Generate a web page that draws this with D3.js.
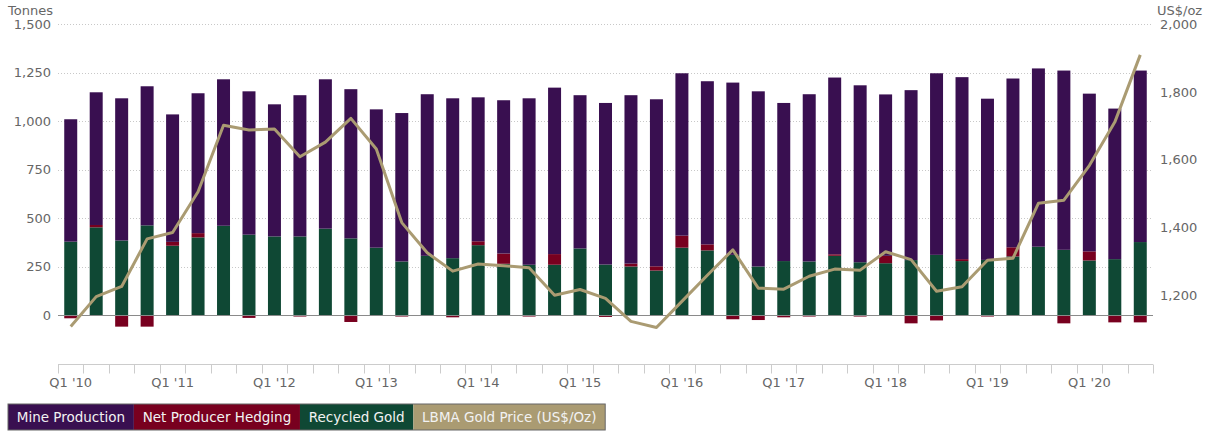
<!DOCTYPE html>
<html><head><meta charset="utf-8">
<script src="https://cdn.jsdelivr.net/npm/d3@7"></script>
<style>
body{margin:0;background:#fff;}
svg{display:block;font-family:"DejaVu Sans",sans-serif;}
</style></head>
<body><svg id="c" width="1212" height="432"></svg>
<script>
const quarters = ["Q1 '10","Q2 '10","Q3 '10","Q4 '10","Q1 '11","Q2 '11","Q3 '11","Q4 '11","Q1 '12","Q2 '12","Q3 '12","Q4 '12","Q1 '13","Q2 '13","Q3 '13","Q4 '13","Q1 '14","Q2 '14","Q3 '14","Q4 '14","Q1 '15","Q2 '15","Q3 '15","Q4 '15","Q1 '16","Q2 '16","Q3 '16","Q4 '16","Q1 '17","Q2 '17","Q3 '17","Q4 '17","Q1 '18","Q2 '18","Q3 '18","Q4 '18","Q1 '19","Q2 '19","Q3 '19","Q4 '19","Q1 '20","Q2 '20","Q3 '20"];
const mineProduction = [631,684,733,717,657,721,755,739,681,728,770,769,713,765,833,824,742,790,858,858,790,833,868,861,837,841,888,903,815,862,911,912,832,876,936,938,831,870,919,924,813,776,884];
const netHedging = [-17,12,-60,-60,20,22,0,-15,-5,-8,-2,-36,-5,-8,-5,-12,20,53,-8,55,-4,-10,15,22,62,31,-22,-26,-12,-8,8,-8,38,-43,-28,10,-8,47,-4,-43,47,-38,-38];
const recycledGold = [378,452,384,462,357,400,460,414,405,405,445,395,347,276,305,293,360,264,259,259,343,260,250,229,347,333,310,250,278,276,305,272,267,283,310,278,284,302,352,336,281,288,376];
const goldPrice = [1109,1197,1227,1367,1386,1506,1702,1688,1691,1609,1652,1722,1632,1415,1326,1272,1293,1288,1282,1201,1218,1192,1124,1106,1183,1260,1335,1222,1219,1257,1278,1275,1329,1306,1213,1226,1304,1310,1472,1481,1583,1711,1909];
const leftTicks = [0,250,500,750,1000,1250,1500];
const rightTicks = [1200,1400,1600,1800,2000];
const seriesNames = ["Mine Production","Net Producer Hedging","Recycled Gold","LBMA Gold Price (US$/Oz)"];
const colors = {mine:"#390f50", hedge:"#78001f", recycled:"#0f4834", price:"#aa9b72"};

const svg = d3.select("#c");
const L = 58, R = 1153, T = 24, B = 363.5;
const x = d3.scaleBand().domain(quarters).range([L, R]).paddingInner(0.49).paddingOuter(0.245);
const y = d3.scaleLinear().domain([-250, 1500]).range([B, T]);
const y2 = d3.scaleLinear().domain([1000, 2000]).range([B, T]);
const fmt = d3.format(",");

// gridlines
svg.append("g").selectAll("line").data(leftTicks.filter(d=>d!==0)).join("line")
  .attr("x1", L).attr("x2", R).attr("y1", d=>Math.round(y(d))+0.5).attr("y2", d=>Math.round(y(d))+0.5)
  .attr("stroke", "#c8c8c8").attr("stroke-dasharray", "1,2");

// left axis labels
const gl = svg.append("g").attr("transform", `translate(${L-4},0)`)
  .call(d3.axisLeft(y).tickValues(leftTicks).tickFormat(fmt).tickSize(0));
gl.select(".domain").remove();
gl.selectAll("text").attr("font-size", 13).attr("fill", "#666").attr("font-family", "DejaVu Sans");
svg.append("text").attr("x", 8).attr("y", 15).attr("font-size", 13).attr("fill", "#666").text("Tonnes");

// right axis labels
const gr = svg.append("g").attr("transform", `translate(${R+4},0)`)
  .call(d3.axisRight(y2).tickValues(rightTicks).tickFormat(fmt).tickSize(0));
gr.select(".domain").remove();
gr.selectAll("text").attr("font-size", 13).attr("fill", "#666").attr("font-family", "DejaVu Sans");
svg.append("text").attr("x", R+4).attr("y", 15).attr("font-size", 13).attr("fill", "#666").text("US$/oz");

// stacked bars
const rows = quarters.map((q,i)=>({q, m:mineProduction[i], h:netHedging[i], r:recycledGold[i]}));
const bars = svg.append("g");
rows.forEach(d=>{
  const bx = x(d.q), bw = x.bandwidth();
  const posH = Math.max(d.h, 0);
  bars.append("rect").attr("x", bx).attr("width", bw).attr("y", y(d.r)).attr("height", y(0)-y(d.r)).attr("fill", colors.recycled);
  if (d.h > 0) bars.append("rect").attr("x", bx).attr("width", bw).attr("y", y(d.r+d.h)).attr("height", y(d.r)-y(d.r+d.h)).attr("fill", colors.hedge);
  if (d.h < 0) bars.append("rect").attr("x", bx).attr("width", bw).attr("y", y(0)).attr("height", y(d.h)-y(0)).attr("fill", colors.hedge);
  bars.append("rect").attr("x", bx).attr("width", bw).attr("y", y(d.r+posH+d.m)).attr("height", y(d.r+posH)-y(d.r+posH+d.m)).attr("fill", colors.mine);
});

// zero line
svg.append("line").attr("x1", L).attr("x2", R).attr("y1", Math.round(y(0))+0.5).attr("y2", Math.round(y(0))+0.5)
  .attr("stroke", "#8a8a8a").attr("stroke-width", 1);

// x axis
const gx = svg.append("g").attr("transform", `translate(0,${Math.round(B)+0.5})`);
gx.append("line").attr("x1", L).attr("x2", R).attr("stroke", "#ccc");
const bounds = d3.range(quarters.length+1).map(i => L + i*x.step());
gx.selectAll("line.tk").data(bounds).join("line").attr("class","tk")
  .attr("x1", d=>Math.round(d)+0.5).attr("x2", d=>Math.round(d)+0.5).attr("y1", 0).attr("y2", 9).attr("stroke", "#ccc");
gx.selectAll("text").data(quarters.filter((q,i)=>i%4===0)).join("text")
  .attr("x", d=>x(d)+x.bandwidth()/2).attr("y", 22).attr("text-anchor", "middle")
  .attr("font-size", 13).attr("fill", "#666").text(d=>d);

// price line
const line = d3.line().x((d,i)=>x(quarters[i])+x.bandwidth()/2).y(d=>y2(d));
svg.append("path").datum(goldPrice).attr("d", line).attr("fill", "none")
  .attr("stroke", colors.price).attr("stroke-width", 3).attr("stroke-linejoin", "round");

// legend
const lg = svg.append("g").attr("transform", "translate(8,404)");
const lcols = [colors.mine, colors.hedge, colors.recycled, colors.price];
let lx = 0;
seriesNames.forEach((n,i)=>{
  const g = lg.append("g");
  const rect = g.append("rect").attr("x", lx).attr("y", 0).attr("height", 26).attr("fill", lcols[i]);
  const t = g.append("text").attr("x", lx+8.75).attr("y", 18).attr("font-size", 13.5).attr("fill", "#f2f2f2").text(n);
  const w = t.node().getComputedTextLength() + 17.5;
  rect.attr("width", w);
  lx += w;
});
lg.append("rect").attr("x", 0).attr("y", 0).attr("width", lx).attr("height", 26).attr("fill", "none").attr("stroke", "#666").attr("stroke-width", 1);
</script></body></html>
